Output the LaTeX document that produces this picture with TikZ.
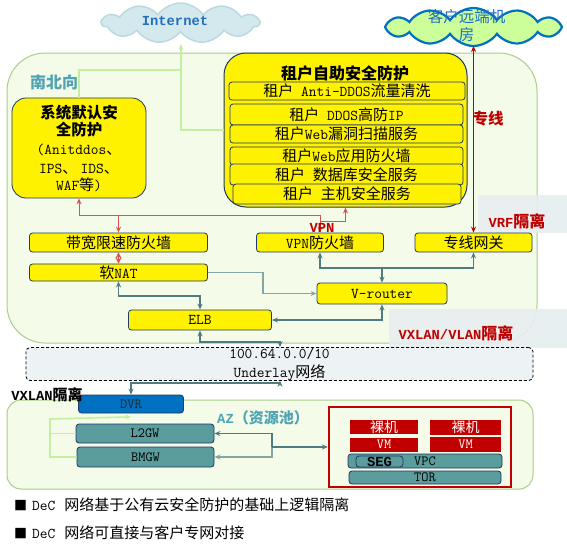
\documentclass[tikz,border=0pt]{standalone}
\usepackage{fontspec}
\setmainfont{Noto Sans CJK SC}
\newfontfamily\lmono{Latin Modern Mono}
\newfontfamily\lbmono{Liberation Mono}
\usetikzlibrary{shapes.symbols,arrows.meta}
\newcommand\tl[1]{{\lmono #1}}
\newcommand\tb[1]{{\lbmono\bfseries\fontsize{13.8}{16}\selectfont #1}}
\newcommand\fsz[2]{\fontsize{#1}{#2}\selectfont}
\definecolor{navy}{HTML}{1F3864}
\definecolor{ltg}{HTML}{F4FBE8}
\definecolor{ltgb}{HTML}{A9CF8A}
\definecolor{teal1}{HTML}{4FA3B3}
\definecolor{dred}{HTML}{C00000}
\definecolor{lred}{HTML}{D9534F}
\definecolor{conn}{HTML}{4F7D7F}
\definecolor{conn2}{HTML}{86A6A6}
\definecolor{gline}{HTML}{C3EFA0}
\definecolor{dvrblue}{HTML}{0070C0}
\definecolor{tealbox}{HTML}{5B9C9C}
\definecolor{lblbg}{HTML}{E7EEEF}
\definecolor{ulbg}{HTML}{EDF3F5}
\definecolor{inetfill}{HTML}{D4E9ED}
\definecolor{inetdraw}{HTML}{BCD9DF}
\definecolor{custfill}{HTML}{CCFF99}
\definecolor{txtblue}{HTML}{1F6FBF}
\begin{document}
\begin{tikzpicture}[x=1pt,y=-1pt,>={Stealth[length=6pt,width=5pt]},
 ybox/.style={draw=navy,fill=yellow,line width=0.8pt,rounded corners=3pt,inner sep=0pt,font=\fsz{15}{17}},
 tbox/.style={draw=navy,fill=tealbox,line width=0.8pt,rounded corners=3pt,inner sep=0pt,font=\fsz{14}{16}\lmono},
 region/.style={draw=ltgb,fill=ltg,line width=1pt},
 gl/.style={draw=gline,line width=1.6pt},
 rl/.style={draw=lred,line width=1pt},
 dl/.style={draw=dred,line width=1pt},
 cl/.style={draw=conn,line width=1.2pt},
 cl2/.style={draw=conn2,line width=1.2pt},
 rbox/.style={fill=dred,inner sep=0pt,text=white}]
\fill[white] (0,0) rectangle (567,550);
\useasboundingbox (0,0) rectangle (567,550);
% regions
\draw[region, rounded corners=38pt] (7,53) rectangle (537,343);
\draw[region, rounded corners=14pt] (7,400) rectangle (533,489);
\fill[lblbg, opacity=0.92] (478,195) rectangle (567,233);
\fill[lblbg, opacity=0.92] (389,309) rectangle (567,348);
% clouds
\node[cloud, cloud puffs=11, cloud puff arc=110, aspect=4, minimum width=157pt, minimum height=40pt, fill=inetfill, draw=inetdraw, line width=1.5pt, inner sep=0pt] (inet) at (180.5,23) {};
\node[text=txtblue] (inettxt) at (175,21) {\tb{Internet}};
\node[cloud, cloud puffs=12, cloud puff arc=110, aspect=4.5, minimum width=177pt, minimum height=38pt, fill=custfill, draw=dvrblue, line width=2.2pt, inner sep=0pt] (cust) at (473.5,27) {};
\node[text=txtblue, font=\fsz{15.5}{18}, align=center] (custtxt) at (466.5,26) {客户远端机\\房};
% system default box
\node[ybox, rounded corners=14pt, minimum width=134pt, minimum height=100pt, align=center, font=\fsz{15}{17}] (sys) at (79,148)
 {{\bfseries\fsz{15.5}{16}系统默认安}\\{\bfseries\fsz{15.5}{16}全防护}\\[2pt]\tl{(Anitddos}、\\[2pt]\tl{IPS}、 \tl{IDS}、\\\tl{WAF}等\tl{)}};
% tenant box
\node[ybox, rounded corners=22pt, line width=1pt, minimum width=243pt, minimum height=154pt] (ten) at (345.5,130) {};
\node[font=\fsz{16}{18}\bfseries] (tentitle) at (345,73) {租户自助安全防护};
\node[ybox, minimum width=236pt, minimum height=18pt] (ta) at (347,91) {租户\tl{\ Anti-DDOS}流量清洗};
\node[ybox, minimum width=233pt, minimum height=21pt] (tbb) at (346.5,114.5) {租户\tl{\ DDOS}高防\tl{IP}};
\node[ybox, minimum width=233pt, minimum height=18pt] (tc) at (346.5,134) {租户\tl{Web}漏洞扫描服务};
\node[ybox, minimum width=233pt, minimum height=18pt] (td) at (346.5,156) {租户\tl{Web}应用防火墙};
\node[ybox, minimum width=233pt, minimum height=21pt] (te) at (346.5,174.5) {租户\tl{\ }数据库安全服务};
\node[ybox, minimum width=228pt, minimum height=20pt] (tf) at (347,194) {租户\tl{\ }主机安全服务};
% firewall row
\node[ybox, minimum width=178pt, minimum height=19pt] (bwf) at (118.5,242.5) {带宽限速防火墙};
\node[ybox, minimum width=127pt, minimum height=19pt] (vpnf) at (320,242.5) {\tl{VPN}防火墙};
\node[ybox, minimum width=117pt, minimum height=19pt] (zxgw) at (473.5,242.5) {专线网关};
\node[ybox, minimum width=178pt, minimum height=17pt] (nat) at (118.5,272.5) {软\tl{NAT}};
\node[ybox, minimum width=130pt, minimum height=21pt] (vr) at (382,293.5) {\tl{V-router}};
\node[ybox, minimum width=143pt, minimum height=20pt] (elb) at (200,320) {\tl{ELB}};
% underlay
\node[draw=black, dash pattern=on 3pt off 2pt, fill=ulbg, rounded corners=4pt, line width=0.8pt, minimum width=507pt, minimum height=22pt, inner sep=0pt, align=center, font=\fsz{15}{19}] (ul) at (279.5,364) {\tl{100.64.0.0/10}\\\tl{Underlay}网络};
% AZ
\node[draw=navy, fill=dvrblue, line width=0.8pt, rounded corners=3pt, inner sep=0pt, minimum width=105pt, minimum height=18pt, font=\fsz{14}{16}\lmono, text=black!85] (dvr) at (131,404) {DVR};
\node[tbox, minimum width=138pt, minimum height=19pt] (l2gw) at (145,433.5) {L2GW};
\node[tbox, minimum width=137pt, minimum height=20pt] (bmgw) at (145.5,457) {BMGW};
\node[draw=dred, line width=2.2pt, fill=ltg, minimum width=182pt, minimum height=80pt, inner sep=0pt] (rb) at (420,447) {};
\node[rbox, minimum width=68pt, minimum height=14pt, font=\fsz{14}{14}] (bm1) at (384,427) {裸机};
\node[rbox, minimum width=68pt, minimum height=14pt, font=\fsz{14}{14}\lmono] (vm1) at (384,444.5) {VM};
\node[rbox, minimum width=71pt, minimum height=15pt, font=\fsz{14}{14}] (bm2) at (465.5,427.5) {裸机};
\node[rbox, minimum width=71pt, minimum height=15pt, font=\fsz{14}{14}\lmono] (vm2) at (465.5,444.5) {VM};
\node[tbox, minimum width=154pt, minimum height=14pt] (vpc) at (425,461) {VPC};
\node[draw=navy, line width=0.8pt, rounded corners=3pt, fill=tealbox, minimum width=47pt, minimum height=11pt, inner sep=0pt] (seg) at (379.5,461.5) {\tb{SEG}};
\node[tbox, minimum width=152pt, minimum height=13pt] (tor) at (425,477.5) {TOR};
% connectors
\coordinate (inetb) at (181,44);
\coordinate (custb) at (473.5,46);
\draw[gl,->] (sys.north) |- (181,70) -- (inetb);
\draw[gl] (ten.west) -| (181,70);
\draw[rl,<->] (sys.south) |- (320,215) -- (vpnf.north);
\draw[rl,->] (bwf.north |- 0,215) -- (bwf.north);
\draw[rl,->] (vpnf.north |- 0,221) -| (ten.south);
\draw[rl,fill=lred,{Stealth[length=6pt,width=6pt]}-{Stealth[length=6pt,width=6pt]}] (bwf.south) -- (nat.north);
\draw[dl,<->] (custb) -- (zxgw.north);
\coordinate (j1) at (382,268);
\draw[cl,<->] (vpnf.south) |- (j1) -| (zxgw.south);
\draw[cl,->] (j1) -- (vr.north);
\coordinate (j2) at (263,293.5);
\draw[cl2,->] (nat.east) -| (j2) -- (vr.west);
\coordinate (j3) at (200,296);
\draw[cl,<->] (nat.south) |- (j3) -- (elb.north);
\draw[cl,<->] (vr.south) |- (elb.east);
\coordinate (j4) at (280,342);
\draw[cl,<->] (elb.south) |- (j4) -- (j4 |- ul.north);
\coordinate (j5) at (280,383);
\draw[cl,<->] (j5 |- ul.south) -- (j5) -| (dvr.north);
\coordinate (j6) at (272,447);
\draw[cl,<-] (l2gw.east) -| (j6);
\draw[cl2,<-] (bmgw.east) -| (j6);
\draw[cl,->] (j6) -- (rb.west);
\coordinate (g1) at (50,419);
\draw[gl] (l2gw.west) -- (l2gw.west -| g1);
\draw[gl,->] (bmgw.west) -| (g1) -- ([yshift=-3.5pt]dvr.south);
% labels
\node[text=teal1, font=\fsz{16}{18}\bfseries] (lnb) at (54,82) {南北向};
\node[text=dred, font=\fsz{15.5}{18}\bfseries] (lzx) at (488,119) {专线};
\node[text=dred, font=\fsz{16}{18}\bfseries] (lvrf) at (517,221) {\tb{VRF}隔离};
\node[text=dred, font=\fsz{16}{18}\bfseries] (lvx) at (456,333) {\tb{VXLAN/VLAN}隔离};
\node[text=dred] (lvpn) at (322,228) {\tb{VPN}};
\node[text=black, font=\fsz{15}{17}\bfseries] (lvx2) at (47,395) {\tb{VXLAN}隔离};
\node[text=teal1, font=\fsz{15}{17}\bfseries] (laz) at (263,418) {\tb{AZ}（资源池）};
% bullets
\node[anchor=west, font=\fsz{15}{17}, inner sep=0pt] (b1) at (14,505) {{\fsz{13}{13}■}\hspace{5pt}\tl{DeC}\hspace{9pt}网络基于公有云安全防护的基础上逻辑隔离};
\node[anchor=west, font=\fsz{15}{17}, inner sep=0pt] (b2) at (14,533) {{\fsz{13}{13}■}\hspace{5pt}\tl{DeC}\hspace{9pt}网络可直接与客户专网对接};
\end{tikzpicture}
\end{document}
